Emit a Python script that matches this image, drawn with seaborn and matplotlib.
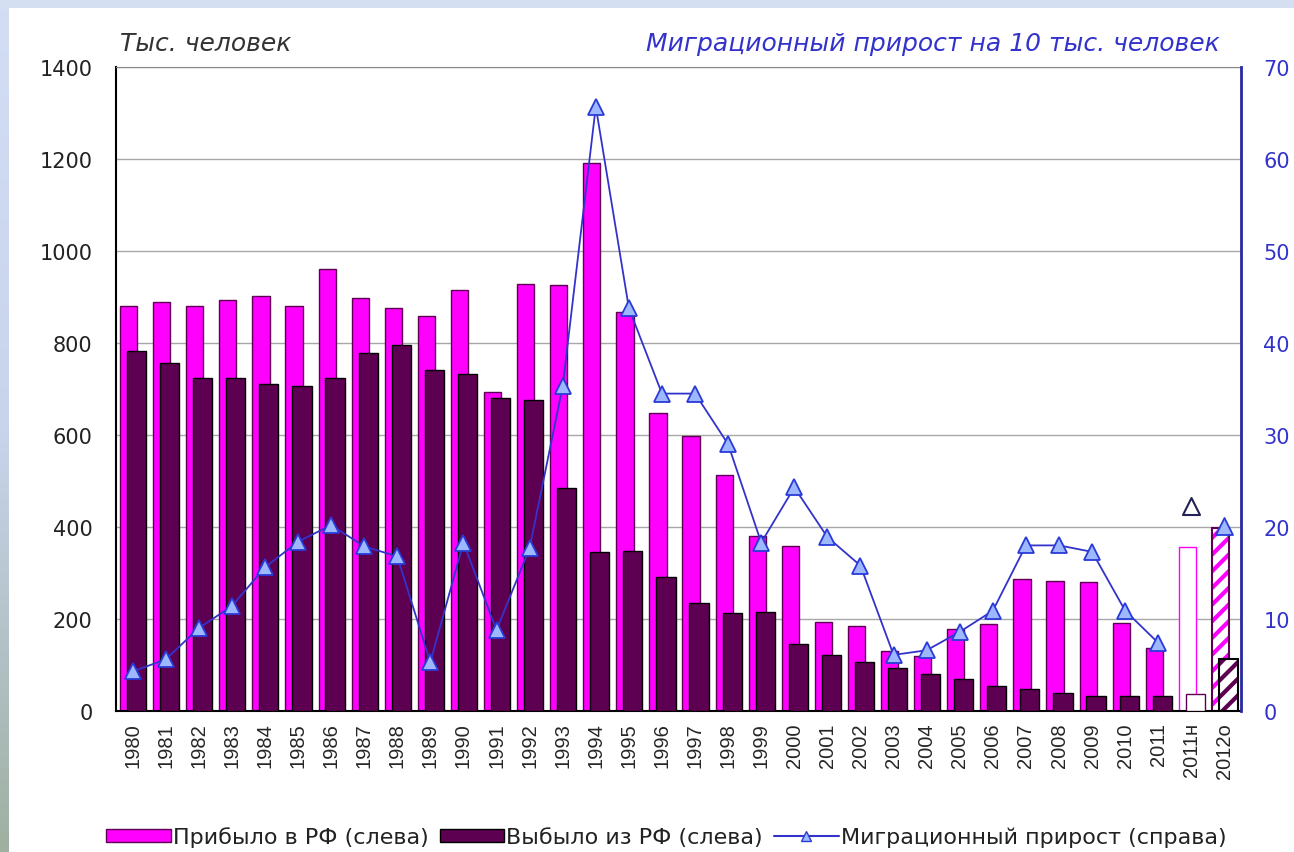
import numpy as np
import pandas as pd
import matplotlib
matplotlib.use("Agg")
import matplotlib.pyplot as plt
from matplotlib.patches import Rectangle
from matplotlib.lines import Line2D
import seaborn as sns

# ---------------------------------------------------
# data
# ---------------------------------------------------
years = ['1980', '1981', '1982', '1983', '1984', '1985', '1986', '1987', '1988', '1989',
         '1990', '1991', '1992', '1993', '1994', '1995', '1996', '1997', '1998', '1999',
         '2000', '2001', '2002', '2003', '2004', '2005', '2006', '2007', '2008', '2009',
         '2010', '2011', '2011н', '2012о']

arrived = [880, 889, 880, 893, 902, 880, 961, 898, 876, 859,
           915, 693, 928, 926, 1192, 867, 648, 598, 513, 380,
           359, 193, 184, 130, 120, 178, 189, 287, 282, 280,
           191, 138, 356, 398]

departed = [783, 757, 724, 724, 711, 707, 724, 778, 796, 741,
            733, 680, 676, 484, 346, 348, 292, 234, 214, 215,
            146, 122, 106, 94, 80, 70, 55, 47, 40, 33,
            33, 33, 37, 113]

# миграционный прирост на 10 тыс. (1980-2011)
growth = [4.3, 5.6, 9.0, 11.4, 15.6, 18.4, 20.2, 17.9, 16.8, 5.3,
          18.3, 8.8, 17.7, 35.3, 65.7, 43.8, 34.5, 34.5, 29.0, 18.3,
          24.3, 18.9, 15.8, 6.1, 6.6, 8.6, 10.9, 18.0, 18.0, 17.3,
          10.9, 7.4]
growth_2011n = 22.3
growth_2012o = 20.1

PINK = '#FF00FF'
DARK = '#5E0052'
BLUE = '#3333CC'

pos = np.arange(len(years))
df = pd.DataFrame({'pos': pos, 'arrived': arrived, 'departed': departed})

sns.set_style('white')
plt.rcParams['font.family'] = ['DejaVu Sans']
plt.rcParams['hatch.linewidth'] = 3

fig = plt.figure(figsize=(12.94, 8.53), dpi=100)
fig.patch.set_facecolor('white')

# slide background strips
fig.patches.append(Rectangle((0, 1 - 9 / 853), 1, 9 / 853, transform=fig.transFigure,
                             facecolor='#D5DFF2', edgecolor='none', zorder=0))
bg = fig.add_axes([0, 0, 9 / 1294, 1 - 9 / 853])
grad = np.linspace(0, 1, 256).reshape(-1, 1)
cmap = matplotlib.colors.LinearSegmentedColormap.from_list('bg', ['#D3DEF5', '#C8D4EC', '#9FB0A2'])
bg.imshow(grad, aspect='auto', cmap=cmap, extent=[0, 1, 0, 1], origin='upper')
bg.axis('off')

ax = fig.add_axes([116 / 1294, 1 - 712 / 853, (1241 - 116) / 1294, (712 - 68) / 853])

# bars: pink slightly left, dark overlapping to the right
sns.barplot(data=df.assign(x=df['pos'] - 0.12), x='x', y='arrived', native_scale=True,
            width=0.52, color=PINK, saturation=1, edgecolor=DARK, linewidth=1, ax=ax, zorder=2)
sns.barplot(data=df.assign(x=df['pos'] + 0.12), x='x', y='departed', native_scale=True,
            width=0.58, color=DARK, saturation=1, edgecolor='black', linewidth=1, ax=ax, zorder=3)

n = len(years)
pink_bars = ax.patches[:n]
dark_bars = ax.patches[n:2 * n]

# 2011н - outline only
pink_bars[n - 2].set_facecolor('white')
pink_bars[n - 2].set_edgecolor(PINK)
dark_bars[n - 2].set_facecolor('white')
dark_bars[n - 2].set_edgecolor(DARK)

# 2012о - hatched
for b, hc, oc in [(pink_bars[n - 1], PINK, DARK), (dark_bars[n - 1], DARK, 'black')]:
    b.set_facecolor('white')
    b.set_edgecolor(hc)
    b.set_hatch('//')
    b.set_linewidth(0)
    ax.add_patch(Rectangle((b.get_x(), b.get_y()), b.get_width(), b.get_height(),
                           facecolor='none', edgecolor=oc, linewidth=1.5, zorder=b.get_zorder()))

ax.set_xlim(-0.5, n - 0.5)
ax.set_ylim(0, 1400)
ax.set_yticks(range(0, 1401, 200))
ax.set_xticks(pos)
ax.set_xticklabels(years, rotation=90, fontsize=14.5, family=['Liberation Sans', 'DejaVu Sans'])
ax.tick_params(axis='y', labelsize=15, length=0, pad=17, labelcolor='#222222')
ax.tick_params(axis='x', length=0, pad=8)
ax.set_xlabel('')
ax.set_ylabel('')
ax.yaxis.grid(True, color='#A8A8A8', linewidth=1)
ax.set_axisbelow(True)
for s in ['left', 'bottom']:
    ax.spines[s].set_color('black')
    ax.spines[s].set_linewidth(1.5)
ax.spines['top'].set_color('#888888')

# right axis - migration growth
ax2 = ax.twinx()
sns.lineplot(x=pos[:len(growth)], y=growth, ax=ax2, color=BLUE, linewidth=1.3,
             marker='^', markersize=12, markerfacecolor='#9DB8FF', markeredgecolor='#2A3AD8',
             markeredgewidth=1.3)
sns.scatterplot(x=[pos[n - 2]], y=[growth_2011n], ax=ax2, marker='^', s=150,
                facecolor='white', edgecolor='#222255', linewidth=1.5, zorder=5)
sns.scatterplot(x=[pos[n - 1]], y=[growth_2012o], ax=ax2, marker='^', s=150,
                facecolor='#9DB8FF', edgecolor='#2A3AD8', linewidth=1.3, zorder=5)
ax2.set_ylim(0, 70)
ax2.set_yticks(range(0, 71, 10))
ax2.tick_params(axis='y', labelsize=15, length=0, pad=16, labelcolor=BLUE)
ax2.set_ylabel('')
ax2.spines['right'].set_color('#2A2AA0')
ax2.spines['right'].set_linewidth(2)
for s in ['left', 'top', 'bottom']:
    ax2.spines[s].set_visible(False)

fig.text(120 / 1294, 1 - 44 / 853, 'Тыс. человек', fontsize=18, style='italic',
         color='#333333', va='center', ha='left')
fig.text(1220 / 1294, 1 - 44 / 853, 'Миграционный прирост на 10 тыс. человек', fontsize=18,
         style='italic', color=BLUE, va='center', ha='right')

handles = [Rectangle((0, 0), 1, 1, facecolor=PINK, edgecolor=DARK),
           Rectangle((0, 0), 1, 1, facecolor=DARK, edgecolor='black'),
           Line2D([], [], color=BLUE, marker='^', markersize=7,
                  markerfacecolor='#9DB8FF', markeredgecolor='#2A3AD8')]
labels = ['Прибыло в РФ (слева)', 'Выбыло из РФ (слева)', 'Миграционный прирост (справа)']
fig.legend(handles, labels, loc='center', bbox_to_anchor=(0.515, 1 - 838 / 853), ncol=3,
           frameon=False, fontsize=16, handlelength=2.9, handleheight=0.5,
           handletextpad=0.1, columnspacing=0.5, labelcolor='#222222')

fig.savefig('out.png', dpi=100)
